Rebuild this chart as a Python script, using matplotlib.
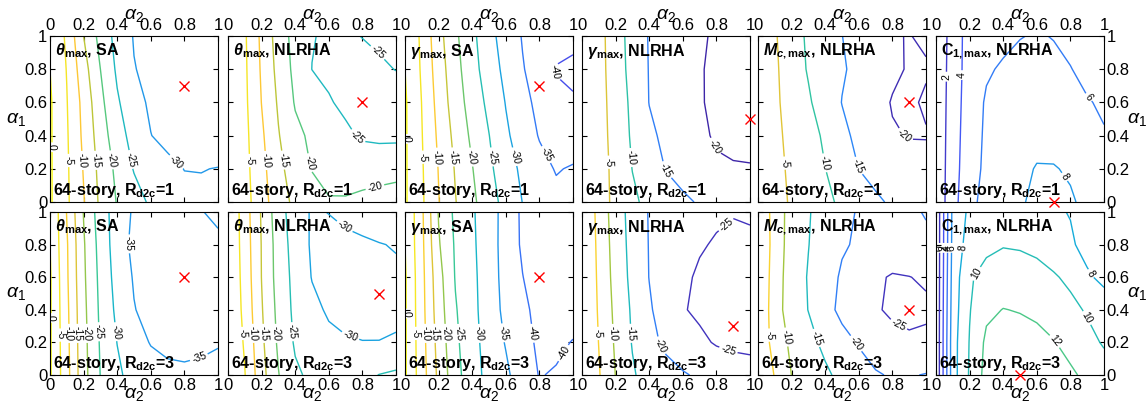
"""Contour maps of response change over (alpha2, alpha1) for the 64-story model."""

import matplotlib
matplotlib.use("Agg")
import matplotlib.pyplot as plt
import numpy as np
from matplotlib.colors import LinearSegmentedColormap

plt.rcParams.update({
    "font.family": "Liberation Sans",
    "mathtext.fontset": "custom",
    "mathtext.rm": "Liberation Sans",
    "mathtext.it": "Liberation Sans:italic",
    "mathtext.bf": "Liberation Sans:bold",
    "mathtext.bfit": "Liberation Sans:italic:bold",
})

alpha2 = [0.0, 0.1, 0.2, 0.3, 0.4, 0.5, 0.6, 0.7, 0.8, 0.9, 1.0]
alpha1 = [0.0, 0.2, 0.4, 0.6, 0.8, 1.0]

# rows follow alpha1 (0 -> 1), columns follow alpha2 (0 -> 1)
theta_sa_r1 = [
    [0.6, -4.2, -9.7, -15.9, -20.3, -23.1, -25.7, -27.3, -28.5, -29.3, -29.6],
    [0.6, -4.3, -10.3, -16.5, -21.2, -25.3, -27.0, -28.6, -30.1, -30.1, -29.9],
    [0.6, -4.5, -11.0, -17.5, -22.9, -26.8, -29.9, -31.5, -32.3, -32.3, -32.0],
    [0.6, -4.8, -11.5, -18.7, -24.4, -28.2, -30.8, -32.0, -32.5, -32.5, -32.3],
    [0.0, -5.2, -13.0, -20.0, -25.8, -29.8, -31.2, -32.0, -32.5, -32.6, -32.5],
    [0.0, -5.9, -15.0, -21.6, -26.7, -30.3, -31.3, -32.0, -32.5, -32.7, -32.7],
]
theta_nl_r1 = [
    [0.0, -3.3, -7.8, -13.0, -16.0, -18.0, -19.7, -19.6, -18.9, -18.3, -17.8],
    [0.0, -3.5, -8.5, -13.7, -17.4, -20.2, -21.3, -21.8, -22.0, -21.8, -21.5],
    [0.0, -3.7, -9.2, -14.7, -18.8, -20.9, -22.5, -24.1, -25.6, -26.0, -26.0],
    [0.0, -4.0, -10.1, -15.6, -20.4, -22.5, -24.6, -26.0, -26.8, -27.0, -26.9],
    [0.0, -4.2, -10.6, -16.5, -21.3, -25.05, -26.0, -26.5, -26.3, -25.6, -24.9],
    [0.0, -4.4, -11.0, -17.2, -21.8, -24.8, -25.6, -25.6, -24.9, -24.3, -23.8],
]
gamma_sa_r1 = [
    [0.6, -4.3, -9.8, -14.8, -18.9, -23.1, -26.5, -30.1, -32.3, -33.8, -33.0],
    [0.6, -4.5, -10.2, -15.4, -19.8, -24.0, -27.8, -31.0, -33.5, -35.3, -34.6],
    [0.6, -4.8, -10.9, -16.4, -21.0, -24.9, -29.2, -32.4, -35.3, -37.0, -37.5],
    [0.6, -5.1, -11.7, -17.6, -22.1, -26.2, -30.2, -33.4, -36.4, -38.8, -39.5],
    [0.0, -5.6, -12.5, -18.3, -23.2, -27.5, -31.3, -34.7, -37.2, -40.3, -41.0],
    [0.0, -6.0, -13.3, -19.1, -23.8, -28.5, -32.1, -35.3, -37.0, -38.0, -38.7],
]
gamma_nl_r1 = [
    [0.0, -3.0, -6.1, -9.1, -11.3, -12.8, -14.2, -15.4, -16.5, -17.2, -17.5],
    [0.0, -3.0, -6.3, -10.1, -12.6, -15.2, -16.6, -17.6, -19.0, -19.6, -19.7],
    [0.0, -3.1, -6.7, -10.7, -14.1, -16.0, -17.2, -18.7, -20.8, -21.2, -21.4],
    [0.0, -3.2, -7.0, -11.1, -15.1, -16.3, -17.6, -19.6, -21.0, -21.5, -21.6],
    [0.0, -3.3, -7.4, -11.7, -15.2, -16.6, -18.0, -19.7, -20.8, -21.2, -21.3],
    [0.0, -3.4, -7.6, -12.0, -15.3, -16.5, -17.6, -19.4, -20.6, -21.0, -21.0],
]
mc_nl_r1 = [
    [0.0, -3.1, -5.6, -7.2, -8.9, -10.9, -12.6, -14.3, -15.6, -16.4, -16.8],
    [0.0, -3.4, -6.0, -8.0, -9.95, -12.5, -15.05, -16.4, -17.5, -18.3, -18.6],
    [0.0, -3.7, -6.5, -8.6, -10.6, -14.0, -16.0, -17.5, -19.6, -20.2, -20.2],
    [0.0, -4.0, -7.2, -9.4, -12.4, -15.1, -16.6, -18.3, -20.3, -20.5, -19.6],
    [0.0, -4.2, -7.6, -10.4, -12.5, -14.6, -16.0, -17.5, -19.1, -20.4, -20.3],
    [0.0, -4.5, -8.0, -10.7, -13.0, -14.95, -16.5, -18.0, -19.8, -20.1, -19.5],
]
c1_nl_r1 = [
    [0.5, 3.3, 5.5, 6.6, 7.0, 7.8, 8.4, 8.6, 8.2, 7.6, 7.2],
    [0.5, 3.2, 5.2, 6.4, 7.0, 7.6, 8.1, 8.1, 7.8, 7.3, 6.9],
    [0.5, 3.1, 5.1, 6.3, 6.9, 7.4, 7.5, 7.4, 7.1, 6.6, 6.1],
    [0.5, 3.0, 5.0, 6.2, 6.6, 6.8, 6.8, 6.7, 6.5, 6.1, 5.8],
    [0.5, 2.9, 4.9, 5.8, 6.2, 6.4, 6.4, 6.3, 6.05, 5.6, 5.2],
    [0.5, 2.8, 4.9, 5.2, 5.6, 5.95, 6.1, 5.95, 5.6, 5.2, 4.8],
]

theta_sa_r3 = [
    [0.6, -8.3, -18.3, -25.1, -29.0, -32.0, -33.4, -34.2, -34.4, -34.3, -34.1],
    [0.6, -8.6, -18.5, -25.5, -30.1, -33.5, -35.2, -35.8, -35.9, -35.6, -35.2],
    [0.6, -8.9, -18.8, -25.9, -31.1, -34.8, -36.5, -37.5, -37.8, -37.5, -37.0],
    [0.6, -9.3, -19.2, -26.3, -31.9, -35.4, -37.2, -38.0, -38.0, -37.6, -37.0],
    [0.0, -9.5, -19.5, -26.8, -32.5, -36.2, -37.3, -37.6, -37.3, -36.6, -35.5],
    [0.0, -10.2, -20.2, -27.5, -32.4, -35.6, -36.5, -36.5, -36.0, -35.1, -34.5],
]
theta_nl_r3 = [
    [0.0, -4.8, -13.2, -19.8, -24.2, -26.0, -26.8, -27.0, -26.0, -24.9, -24.2],
    [0.0, -5.6, -14.0, -20.8, -25.6, -27.6, -28.9, -29.6, -29.9, -29.9, -29.5],
    [0.0, -6.4, -14.6, -21.4, -26.2, -28.8, -30.6, -31.3, -31.5, -31.4, -31.1],
    [0.0, -6.9, -15.1, -22.0, -26.5, -30.2, -31.2, -31.7, -31.7, -31.4, -30.8],
    [0.0, -7.3, -15.2, -22.2, -27.1, -30.6, -31.3, -31.2, -30.8, -30.2, -29.7],
    [0.0, -7.6, -15.5, -22.9, -27.6, -30.5, -29.9, -28.8, -27.8, -27.0, -26.3],
]
gamma_sa_r3 = [
    [0.6, -7.7, -16.1, -23.3, -28.0, -31.5, -34.1, -37.5, -40.2, -39.6, -38.5],
    [0.6, -8.0, -16.8, -24.0, -28.3, -32.1, -35.3, -38.4, -40.8, -40.9, -39.8],
    [0.6, -8.3, -17.6, -24.6, -28.6, -32.6, -36.2, -38.9, -41.5, -42.2, -41.8],
    [0.6, -8.5, -18.2, -25.3, -28.8, -32.8, -36.6, -39.9, -42.3, -43.3, -43.5],
    [0.0, -8.8, -19.5, -25.6, -29.2, -32.7, -37.0, -40.7, -42.7, -43.5, -43.2],
    [0.0, -9.1, -20.3, -26.1, -29.5, -32.5, -37.1, -40.8, -42.5, -43.0, -42.5],
]
gamma_nl_r3 = [
    [0.0, -4.6, -10.1, -14.4, -17.2, -18.5, -19.6, -20.6, -21.8, -22.8, -23.7],
    [0.0, -5.1, -10.7, -15.3, -18.7, -20.9, -22.6, -24.1, -25.4, -25.9, -25.8],
    [0.0, -5.5, -11.2, -15.7, -19.4, -22.4, -24.7, -25.8, -26.5, -26.8, -26.6],
    [0.0, -5.8, -11.8, -16.3, -20.1, -22.2, -24.2, -25.6, -26.3, -26.6, -26.4],
    [0.0, -6.1, -12.2, -16.6, -20.2, -21.9, -23.2, -24.6, -25.4, -25.8, -25.6],
    [0.0, -6.5, -12.6, -16.8, -20.3, -21.8, -22.8, -23.6, -24.3, -24.8, -24.6],
]
mc_nl_r3 = [
    [0.0, -5.3, -10.05, -12.1, -14.2, -16.2, -17.9, -19.6, -20.4, -20.3, -19.8],
    [0.0, -7.4, -10.9, -13.6, -16.1, -18.3, -20.4, -22.1, -23.5, -24.2, -24.0],
    [0.0, -7.9, -12.4, -15.1, -18.2, -21.3, -23.3, -24.5, -25.8, -26.3, -25.8],
    [0.0, -7.5, -12.5, -15.3, -18.0, -20.6, -22.6, -24.3, -25.4, -25.1, -24.4],
    [0.0, -7.0, -12.3, -14.9, -17.3, -19.5, -20.6, -21.5, -22.0, -21.5, -20.6],
    [0.0, -7.2, -12.0, -14.7, -16.8, -19.0, -20.3, -20.8, -20.9, -20.5, -19.8],
]
c1_nl_r3 = [
    [-1.8, 7.2, 10.2, 12.7, 13.0, 13.1, 13.1, 12.9, 12.3, 11.6, 10.9],
    [-1.8, 7.2, 10.1, 12.4, 12.7, 12.8, 12.6, 12.1, 11.4, 10.6, 9.8],
    [-1.8, 7.0, 9.9, 11.6, 12.05, 11.9, 11.6, 11.1, 10.5, 9.8, 9.1],
    [-1.8, 6.8, 9.8, 10.6, 10.9, 10.9, 10.7, 10.2, 9.6, 8.3, 7.5],
    [-1.8, 6.6, 8.9, 9.6, 9.9, 9.8, 9.5, 9.0, 8.3, 7.3, 6.5],
    [-1.8, 6.5, 8.4, 8.9, 9.1, 9.0, 8.7, 8.3, 7.9, 7.0, 6.2],
]

levels_r1 = [
    [-30, -25, -20, -15, -10, -5, 0],
    [-25, -20, -15, -10, -5],
    [-40, -35, -30, -25, -20, -15, -10, -5, 0],
    [-20, -15, -10, -5],
    [-20, -15, -10, -5],
    [2, 4, 6, 8],
]
levels_r3 = [
    [-35, -30, -25, -20, -15, -10, -5, 0],
    [-30, -25, -20, -15, -10, -5],
    [-40, -35, -30, -25, -20, -15, -10, -5, 0],
    [-25, -20, -15, -10, -5],
    [-25, -20, -15, -10, -5],
    [0, 2, 4, 6, 8, 10, 12],
]

# optimum (alpha2, alpha1) of each map
opt_r1 = [(0.8, 0.7), (0.8, 0.6), (0.8, 0.7), (1.0, 0.5), (0.9, 0.6), (0.7, 0.0)]
opt_r3 = [(0.8, 0.6), (0.9, 0.5), (0.8, 0.6), (0.9, 0.3), (0.9, 0.4), (0.5, 0.0)]

titles = [
    r"$\mathbfit{\theta}_{\mathbf{max}}$, SA",
    r"$\mathbfit{\theta}_{\mathbf{max}}$, NLRHA",
    r"$\mathbfit{\gamma}_{\mathbf{max}}$, SA",
    r"$\mathbfit{\gamma}_{\mathbf{max}}$, NLRHA",
    r"$\mathbfit{M}_{\mathbfit{c}\mathbf{,max}}$, NLRHA",
    r"$\mathbf{C}_{\mathbf{1,max}}$, NLRHA",
]
rd2c = [1, 3]
tick_vals = [0, 0.2, 0.4, 0.6, 0.8, 1.0]
tick_text = ["0", "0.2", "0.4", "0.6", "0.8", "1"]

# where the contour labels sit
label_pos_r1 = [
    [(0.01, 0.33), (0.11, 0.25), (0.19, 0.25), (0.26, 0.25), (0.34, 0.25), (0.45, 0.25), (0.73, 0.22)],
    [(0.135, 0.25), (0.225, 0.25), (0.31, 0.25), (0.45, 0.23), (0.877, 0.885), (0.768, 0.39), (0.877, 0.08)],
    [(0.006, 0.38), (0.11, 0.27), (0.19, 0.27), (0.27, 0.27), (0.39, 0.27), (0.505, 0.27),
     (0.64, 0.27), (0.83, 0.28), (0.88, 0.78)],
    [(0.165, 0.24), (0.32, 0.27), (0.475, 0.18), (0.78, 0.33)],
    [(0.143, 0.233), (0.38, 0.233), (0.58, 0.213), (0.86, 0.38)],
    [(0.054, 0.755), (0.143, 0.765), (0.913, 0.635), (0.768, 0.153)],
]
label_pos_r3 = [
    [(0.01, 0.35), (0.065, 0.245), (0.11, 0.255), (0.155, 0.255), (0.208, 0.255),
     (0.277, 0.265), (0.386, 0.265), (0.446, 0.806), (0.88, 0.133)],
    [(0.09, 0.255), (0.14, 0.255), (0.205, 0.255), (0.28, 0.255), (0.372, 0.265),
     (0.71, 0.93), (0.72, 0.215)],
    [(0.006, 0.377), (0.055, 0.255), (0.109, 0.255), (0.158, 0.255), (0.238, 0.255),
     (0.323, 0.255), (0.436, 0.255), (0.554, 0.255), (0.752, 0.255), (0.93, 0.143)],
    [(0.099, 0.255), (0.188, 0.255), (0.277, 0.255), (0.455, 0.173), (0.861, 0.918), (0.861, 0.122)],
    [(0.073, 0.245), (0.183, 0.235), (0.341, 0.225), (0.569, 0.184), (0.817, 0.27)],
    [(0.02, 0.78), (0.043, 0.78), (0.065, 0.78), (0.088, 0.78), (0.163, 0.78),
     (0.222, 0.634), (0.877, 0.337), (0.907, 0.613), (0.718, 0.215)],
]

clims_r1 = [(-43, 0), (-43, 0), (-45, 0), (-20, 1.5), (-20.5, 1.5), (0.5, 25)]
clims_r3 = [(-50, 0), (-45, 0), (-50, 0), (-26, 0), (-26, 0), (-1, 24)]

parula = LinearSegmentedColormap.from_list("parula", [
    (0.2422, 0.1504, 0.6603), (0.2810, 0.3228, 0.9579), (0.1786, 0.5289, 0.9682),
    (0.0689, 0.6948, 0.8394), (0.2161, 0.7843, 0.5923), (0.6720, 0.7793, 0.2227),
    (0.9970, 0.7659, 0.2199), (0.9598, 0.8903, 0.1516), (0.9769, 0.9839, 0.0805),
])

W, H = 1146, 407
lefts_px = [50, 228, 405, 582, 758, 936]
panel_w = 168
rows_px = [(36, 202), (212, 375)]

grids = [
    [theta_sa_r1, theta_nl_r1, gamma_sa_r1, gamma_nl_r1, mc_nl_r1, c1_nl_r1],
    [theta_sa_r3, theta_nl_r3, gamma_sa_r3, gamma_nl_r3, mc_nl_r3, c1_nl_r3],
]
levels = [levels_r1, levels_r3]
opts = [opt_r1, opt_r3]
label_pos = [label_pos_r1, label_pos_r3]
clims = [clims_r1, clims_r3]

fig = plt.figure(figsize=(W / 100, H / 100), dpi=100)
fmt = lambda v: f"{v:g}"

for r in range(2):
    top_px, bot_px = rows_px[r]
    for c in range(6):
        ax = fig.add_axes([lefts_px[c] / W, 1 - bot_px / H, panel_w / W, (bot_px - top_px) / H])
        z = np.array(grids[r][c])
        vmin, vmax = clims[r][c]
        cs = ax.contour(alpha2, alpha1, z, levels=levels[r][c], cmap=parula,
                        vmin=vmin, vmax=vmax, linewidths=1.0)
        ax.clabel(cs, manual=label_pos[r][c], inline=True, inline_spacing=2,
                  fontsize=7.5, fmt=fmt, colors="k")
        ox, oy = opts[r][c]
        ax.plot(ox, oy, "x", color="red", ms=7, mew=1.0, clip_on=False, zorder=5)

        ax.set_xlim(0, 1)
        ax.set_ylim(0, 1)
        ax.set_xticks(tick_vals, tick_text)
        ax.set_yticks(tick_vals, tick_text)
        ax.tick_params(direction="in", length=3.5, width=0.8, top=True, right=True,
                       labelsize=12, pad=2)
        if r == 0:
            ax.tick_params(labeltop=True, labelbottom=False)
            ax.text(0.5, 1.075, r"$\alpha_2$", transform=ax.transAxes,
                    ha="center", va="bottom", fontsize=14)
        else:
            ax.text(0.5, -0.07, r"$\alpha_2$", transform=ax.transAxes,
                    ha="center", va="top", fontsize=14)
        if c == 0:
            ax.text(-0.26, 0.5, r"$\alpha_1$", transform=ax.transAxes,
                    ha="left", va="center", fontsize=14)
        elif c == 5:
            ax.tick_params(labelleft=False, labelright=True)
            ax.text(1.135, 0.5, r"$\alpha_1$", transform=ax.transAxes,
                    ha="left", va="center", fontsize=14)
        else:
            ax.tick_params(labelleft=False)
        for s in ax.spines.values():
            s.set_linewidth(0.8)

        ax.text(0.03, 0.965, titles[c], transform=ax.transAxes, ha="left", va="top",
                fontsize=11.5, fontweight="bold")
        ax.text(0.018, 0.012, rf"64-story, R$_{{\mathbf{{d2c}}}}$={rd2c[r]}",
                transform=ax.transAxes, ha="left", va="bottom",
                fontsize=11.5, fontweight="bold")

fig.savefig("out.png", dpi=100)
